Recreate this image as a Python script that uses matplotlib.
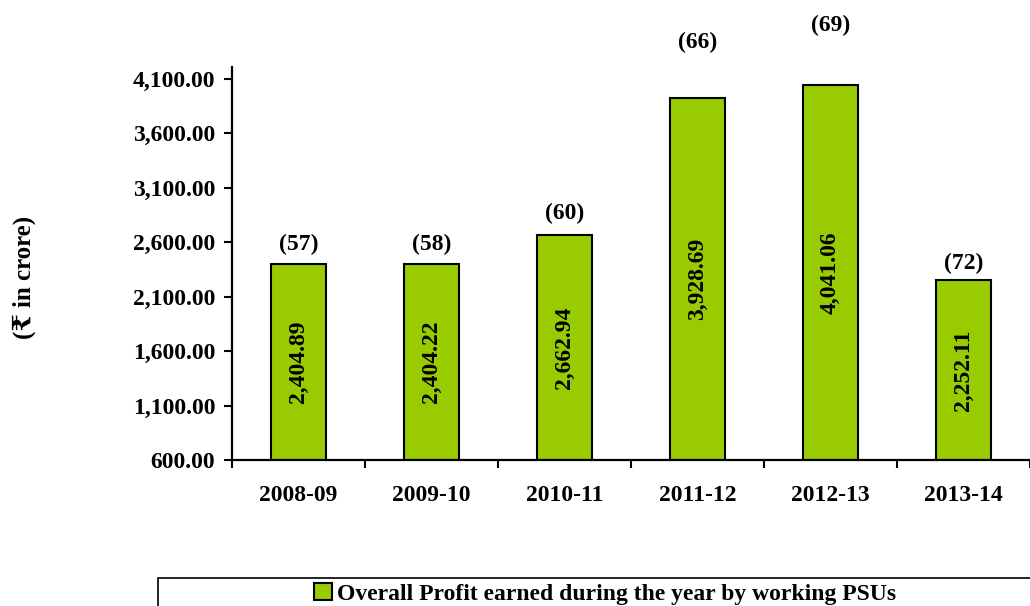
import numpy as np
import matplotlib
matplotlib.use("Agg")
import matplotlib.pyplot as plt
import matplotlib.patches as patches

plt.rcParams['font.family'] = ['Liberation Serif', 'DejaVu Serif', 'DejaVu Sans']
plt.rcParams['font.weight'] = 'bold'

# data
years = ["2008-09", "2009-10", "2010-11", "2011-12", "2012-13", "2013-14"]
profit = [2404.89, 2404.22, 2662.94, 3928.69, 4041.06, 2252.11]
psu_count = [57, 58, 60, 66, 69, 72]
yticks = [600, 1100, 1600, 2100, 2600, 3100, 3600, 4100]

# how far above each bar the PSU count sits (points)
count_offset = [14, 14, 16, 40, 43, 12]

green = "#99CC00"
fs = 17

fig = plt.figure(figsize=(10.3, 6.06), dpi=100)
ax = fig.add_axes([0.2252, 0.2409, 0.7748, 0.6485])

x = np.arange(len(years))
bars = ax.bar(x, profit, width=0.41, color=green, edgecolor="black", linewidth=1.5, zorder=2)

ax.set_xlim(-0.5, len(years) - 0.5)
ax.set_ylim(600, 4210)

# value inside each bar, rotated
for xi, v in zip(x, profit):
    ax.text(xi, (600 + v) / 2, f"{v:,.2f}", rotation=90, ha="center", va="center",
            fontsize=fs, fontweight="bold", zorder=3)

# number of PSUs above bar
for xi, v, n, off in zip(x, profit, psu_count, count_offset):
    ax.annotate(f"({n})", (xi, v), xytext=(0, off), textcoords="offset points",
                ha="center", va="center", fontsize=fs, fontweight="bold",
                annotation_clip=False)

# axes styling
for s in ["top", "right"]:
    ax.spines[s].set_visible(False)
ax.spines["left"].set_linewidth(1.6)
ax.spines["bottom"].set_linewidth(1.6)

ax.set_yticks(yticks)
ax.set_yticklabels([f"{t:,.2f}" for t in yticks], fontsize=fs, fontweight="bold")
ax.tick_params(axis="y", direction="out", length=6, width=1.5, pad=6)

ax.set_xticks(x)
ax.set_xticklabels(years, fontsize=fs, fontweight="bold")
ax.set_xticks(np.arange(-0.5, len(years)), minor=True)
ax.tick_params(axis="x", which="major", length=0, pad=18)
ax.tick_params(axis="x", which="minor", direction="out", length=6, width=1.5)

fig.text(0.024, 1 - 277 / 606, "(₹ in crore)", rotation=90, ha="center", va="center",
         fontsize=18, fontweight="bold")

# legend box at the bottom
box = patches.Rectangle((158 / 1030, -0.05), 0.9, 0.05 + 28 / 606, transform=fig.transFigure,
                        facecolor="white", edgecolor="black", linewidth=1.2, clip_on=False)
fig.patches.append(box)
handle = patches.Patch(facecolor=green, edgecolor="black", linewidth=1.5)
fig.legend([handle], ["Overall Profit earned during the year by working PSUs"],
           loc="center", bbox_to_anchor=(605 / 1030, 1 - 594 / 606), frameon=False,
           prop={"size": fs, "weight": "bold"}, handlelength=0.75, handleheight=0.75,
           handletextpad=0.2, borderpad=0)

fig.savefig("out.png", dpi=100)
